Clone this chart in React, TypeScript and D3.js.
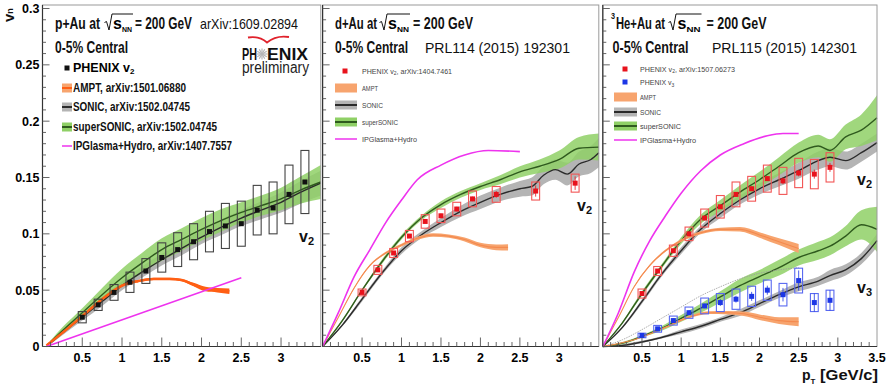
import React from 'react';
import * as d3 from 'd3';

// [pT, value, band half-width]
type Pt = [number, number, number];

// ---------- p+Au (arXiv:1609.02894) ----------
const pAuPt = [0.5, 0.7, 0.9, 1.1, 1.3, 1.5, 1.7, 1.9, 2.1, 2.3, 2.5, 2.7, 2.9, 3.1, 3.3];
const pAuV2 = [0.026, 0.037, 0.048, 0.057, 0.067, 0.079, 0.086, 0.093, 0.102, 0.107, 0.109, 0.121, 0.123, 0.135, 0.146];
const pAuSys = [0.005, 0.005, 0.007, 0.009, 0.011, 0.013, 0.015, 0.016, 0.018, 0.02, 0.02, 0.022, 0.023, 0.026, 0.028];

const pAuSonic: Pt[] = [[0.1, 0.003, 0.001], [0.25, 0.012, 0.002], [0.5, 0.026, 0.003], [0.75, 0.04, 0.004], [1.0, 0.054, 0.004], [1.25, 0.066, 0.005], [1.5, 0.077, 0.005], [1.75, 0.087, 0.006], [2.0, 0.097, 0.006], [2.25, 0.106, 0.007], [2.5, 0.114, 0.007], [2.75, 0.121, 0.008], [3.0, 0.128, 0.009], [3.25, 0.137, 0.01], [3.5, 0.145, 0.011]];
const pAuSuper: Pt[] = [[0.1, 0.004, 0.001], [0.25, 0.014, 0.003], [0.5, 0.03, 0.004], [0.75, 0.046, 0.006], [1.0, 0.061, 0.008], [1.25, 0.074, 0.009], [1.5, 0.086, 0.01], [1.75, 0.095, 0.01], [2.0, 0.104, 0.01], [2.25, 0.112, 0.01], [2.5, 0.119, 0.009], [2.75, 0.125, 0.009], [3.0, 0.131, 0.01], [3.25, 0.139, 0.012], [3.5, 0.146, 0.015]];
const pAuAmpt: Pt[] = [[0.05, 0.001, 0.001], [0.3, 0.015, 0.001], [0.5, 0.027, 0.001], [0.75, 0.042, 0.001], [1.0, 0.054, 0.001], [1.2, 0.058, 0.001], [1.4, 0.06, 0.001], [1.6, 0.06, 0.001], [1.75, 0.059, 0.001], [1.9, 0.055, 0.0015], [2.05, 0.051, 0.002], [2.2, 0.05, 0.002], [2.35, 0.049, 0.0025]];
const pAuIpg: Pt[] = [[0.05, 0, 0], [2.5, 0.061, 0]];

// ---------- d+Au (PRL114 (2015) 192301) ----------
const dAuPt = [0.5, 0.7, 0.9, 1.1, 1.3, 1.5, 1.7, 1.9, 2.2, 2.7, 3.2];
const dAuV2 = [0.048, 0.068, 0.083, 0.098, 0.111, 0.116, 0.122, 0.131, 0.135, 0.138, 0.145];
const dAuSys = [0.003, 0.004, 0.004, 0.005, 0.006, 0.006, 0.006, 0.007, 0.007, 0.008, 0.008];
const dAuStat = [0.001, 0.001, 0.001, 0.001, 0.001, 0.002, 0.002, 0.002, 0.003, 0.005, 0.006];

const dAuSonic: Pt[] = [[0, 0, 0], [0.25, 0.019, 0.001], [0.5, 0.042, 0.002], [0.75, 0.065, 0.002], [1.0, 0.085, 0.003], [1.25, 0.099, 0.003], [1.5, 0.11, 0.004], [1.75, 0.12, 0.005], [2.0, 0.128, 0.006], [2.25, 0.135, 0.006], [2.5, 0.14, 0.007], [2.65, 0.142, 0.008], [2.8, 0.152, 0.008], [2.95, 0.157, 0.009], [3.1, 0.153, 0.01], [3.25, 0.162, 0.011], [3.4, 0.166, 0.012], [3.5, 0.172, 0.013]];
const dAuSuper: Pt[] = [[0, 0, 0], [0.25, 0.023, 0.001], [0.5, 0.05, 0.001], [0.75, 0.075, 0.002], [1.0, 0.097, 0.002], [1.25, 0.114, 0.002], [1.5, 0.126, 0.003], [1.75, 0.135, 0.003], [2.0, 0.142, 0.003], [2.25, 0.148, 0.004], [2.5, 0.155, 0.005], [2.75, 0.16, 0.006], [3.0, 0.166, 0.008], [3.25, 0.176, 0.01], [3.5, 0.177, 0.012]];
const dAuAmpt: Pt[] = [[0, 0, 0], [0.2, 0.026, 0], [0.4, 0.052, 0.0005], [0.6, 0.072, 0.0008], [0.8, 0.083, 0.001], [1.0, 0.09, 0.0012], [1.2, 0.096, 0.0014], [1.4, 0.099, 0.0015], [1.6, 0.098, 0.0015], [1.8, 0.095, 0.0018], [2.0, 0.09, 0.002], [2.2, 0.088, 0.0025], [2.35, 0.088, 0.0028]];
const dAuIpg: Pt[] = [[0, 0, 0], [0.2, 0.03, 0], [0.4, 0.062, 0], [0.6, 0.086, 0], [0.8, 0.11, 0], [1.0, 0.13, 0], [1.2, 0.148, 0], [1.5, 0.161, 0], [1.8, 0.17, 0], [2.1, 0.174, 0], [2.5, 0.173, 0]];

// ---------- 3He+Au (PRL115 (2015) 142301) ----------
const hePt = [0.5, 0.7, 0.9, 1.1, 1.3, 1.5, 1.7, 1.9, 2.1, 2.3, 2.5, 2.7, 2.9];
const heV2 = [0.047, 0.067, 0.085, 0.1, 0.114, 0.124, 0.135, 0.14, 0.149, 0.147, 0.154, 0.153, 0.159];
const heV2Sys = [0.004, 0.004, 0.005, 0.006, 0.008, 0.01, 0.011, 0.011, 0.012, 0.012, 0.013, 0.013, 0.013];
const heV2Stat = [0.001, 0.001, 0.001, 0.001, 0.001, 0.001, 0.002, 0.002, 0.002, 0.003, 0.003, 0.004, 0.004];
const heV3 = [0.0098, 0.0157, 0.023, 0.03, 0.036, 0.039, 0.042, 0.0445, 0.05, 0.046, 0.0585, 0.039, 0.041];
const heV3Sys = [0.002, 0.003, 0.004, 0.005, 0.007, 0.008, 0.009, 0.009, 0.009, 0.01, 0.011, 0.008, 0.009];
const heV3Stat = [0.001, 0.001, 0.002, 0.002, 0.002, 0.003, 0.003, 0.004, 0.004, 0.006, 0.009, 0.008, 0.009];

const heSonicV2: Pt[] = [[0, 0, 0], [0.25, 0.017, 0.001], [0.5, 0.04, 0.002], [0.75, 0.064, 0.002], [1.0, 0.085, 0.003], [1.25, 0.104, 0.003], [1.5, 0.118, 0.004], [1.75, 0.13, 0.004], [2.0, 0.14, 0.005], [2.25, 0.148, 0.006], [2.5, 0.156, 0.007], [2.75, 0.165, 0.008], [2.9, 0.168, 0.008], [3.1, 0.165, 0.008], [3.3, 0.172, 0.008], [3.5, 0.181, 0.008]];
const heSuperV2: Pt[] = [[0, 0, 0], [0.25, 0.021, 0.001], [0.5, 0.047, 0.002], [0.75, 0.071, 0.002], [1.0, 0.094, 0.003], [1.25, 0.113, 0.004], [1.5, 0.125, 0.005], [1.75, 0.137, 0.006], [2.0, 0.148, 0.007], [2.25, 0.16, 0.008], [2.5, 0.172, 0.009], [2.75, 0.178, 0.01], [2.9, 0.174, 0.01], [3.1, 0.186, 0.011], [3.3, 0.192, 0.014], [3.5, 0.203, 0.02]];
const heAmptV2: Pt[] = [[0, 0, 0], [0.2, 0.026, 0], [0.4, 0.053, 0.0005], [0.6, 0.072, 0.0008], [0.8, 0.085, 0.001], [1.0, 0.094, 0.0012], [1.25, 0.101, 0.0014], [1.5, 0.104, 0.0015], [1.75, 0.104, 0.002], [2.0, 0.099, 0.0025], [2.25, 0.093, 0.003], [2.5, 0.087, 0.004]];
const heIpgV2: Pt[] = [[0, 0, 0], [0.2, 0.03, 0], [0.4, 0.066, 0], [0.6, 0.094, 0], [0.8, 0.116, 0], [1.0, 0.136, 0], [1.25, 0.156, 0], [1.5, 0.17, 0], [1.8, 0.18, 0], [2.1, 0.187, 0], [2.3, 0.189, 0], [2.5, 0.189, 0]];
const heSonicV3: Pt[] = [[0, 0, 0], [0.25, 0.001, 0.001], [0.5, 0.004, 0.001], [0.75, 0.008, 0.001], [1.0, 0.013, 0.002], [1.25, 0.018, 0.002], [1.5, 0.024, 0.002], [1.75, 0.03, 0.003], [2.0, 0.038, 0.003], [2.25, 0.046, 0.003], [2.5, 0.053, 0.004], [2.75, 0.058, 0.004], [2.9, 0.063, 0.005], [3.1, 0.068, 0.005], [3.3, 0.078, 0.005], [3.5, 0.094, 0.006]];
const heSuperV3: Pt[] = [[0, 0, 0], [0.25, 0.003, 0.001], [0.5, 0.009, 0.001], [0.75, 0.016, 0.002], [1.0, 0.025, 0.003], [1.25, 0.034, 0.004], [1.5, 0.044, 0.005], [1.75, 0.054, 0.006], [2.0, 0.062, 0.006], [2.25, 0.07, 0.007], [2.5, 0.079, 0.007], [2.75, 0.085, 0.008], [2.9, 0.089, 0.008], [3.1, 0.098, 0.009], [3.3, 0.108, 0.013], [3.5, 0.104, 0.02]];
const heAmptV3: Pt[] = [[0, 0, 0], [0.4, 0.006, 0], [0.8, 0.017, 0.0005], [1.1, 0.026, 0.001], [1.35, 0.03, 0.0012], [1.6, 0.03, 0.0015], [1.8, 0.029, 0.002], [2.0, 0.026, 0.0025], [2.25, 0.023, 0.003], [2.5, 0.022, 0.004]];
const heThinV3: Pt[] = [[0, 0, 0], [0.25, 0.006, 0], [0.5, 0.015, 0], [0.75, 0.025, 0], [1.0, 0.035, 0], [1.25, 0.045, 0], [1.5, 0.053, 0], [1.75, 0.06, 0], [2.0, 0.065, 0], [2.25, 0.068, 0], [2.5, 0.07, 0]];

const yTickLabels = ['0', '0.05', '0.1', '0.15', '0.2', '0.25', '0.3'];
const xTickLabels = ['0.5', '1', '1.5', '2', '2.5', '3', '3.5'];

const narrow = "'Liberation Sans Narrow', 'Arial Narrow', 'Liberation Sans', Arial, sans-serif";
const sans = "'Liberation Sans', Arial, sans-serif";

const C = {
  gray: '#b4b4b4', grayLine: '#2b2b2b',
  green: '#8fd066', greenLine: '#2f5a1e',
  amptBand: '#f7a46e', amptLine: '#f48a4f', amptThick: '#ff5f14',
  pink: '#ee33ee', red: '#e8121c', redBox: '#f25555', blue: '#1c36e6', blueBox: '#5868f0'
};

const yS = d3.scaleLinear().domain([0, 0.3]).range([346.5, 8.5]);
const frameTop = 5;

const area = (xs: d3.ScaleLinear<number, number>, data: Pt[]) =>
  d3.area<Pt>().x(d => xs(d[0])).y0(d => yS(d[1] - d[2])).y1(d => yS(d[1] + d[2])).curve(d3.curveMonotoneX)(data) || '';
const line = (xs: d3.ScaleLinear<number, number>, data: Pt[]) =>
  d3.line<Pt>().x(d => xs(d[0])).y(d => yS(d[1])).curve(d3.curveMonotoneX)(data) || '';

function Frame({ xs, showLabels, lastX }: { xs: d3.ScaleLinear<number, number>; showLabels: boolean; lastX: boolean }) {
  const [x0, x1] = xs.range();
  const yt = d3.range(0, 31).map(i => i / 100);
  const xt = d3.range(1, 35).map(i => i / 10);
  const xLab = xTickLabels.slice(0, lastX ? 7 : 6);
  return (
    <g>
      <rect x={x0} y={frameTop} width={x1 - x0} height={yS(0) - frameTop} fill="none" stroke="#9a9a9a" strokeWidth={1} />
      <line x1={x0} x2={x0} y1={frameTop} y2={yS(0)} stroke="#333" strokeWidth={1.2} />
      <line x1={x0} x2={x1} y1={yS(0)} y2={yS(0)} stroke="#333" strokeWidth={1.2} />
      {yt.map((v, i) => (
        <line key={'y' + i} x1={x0} x2={x0 + (i % 5 === 0 ? 7 : 3.5)} y1={yS(v)} y2={yS(v)} stroke="#555" strokeWidth={0.9} />
      ))}
      {xt.map((v, i) => (
        <line key={'x' + i} x1={xs(v)} x2={xs(v)} y1={yS(0)} y2={yS(0) - ((i + 1) % 5 === 0 ? 9 : 4.5)} stroke="#555" strokeWidth={0.9} />
      ))}
      {showLabels && yTickLabels.map((t, i) => (
        <text key={'yl' + i} x={x0 - 3} y={yS(+t) + 4.5} textAnchor="end" fontFamily={sans} fontWeight="bold" fontSize={12.5}>{t}</text>
      ))}
      {xLab.map(t => (
        <text key={'xl' + t} x={xs(+t)} y={362} textAnchor="middle" fontFamily={sans} fontWeight="bold" fontSize={12.5}>{t}</text>
      ))}
    </g>
  );
}

function Data({ xs, pt, v, sys, stat, fill, box, size }: {
  xs: d3.ScaleLinear<number, number>; pt: number[]; v: number[]; sys: number[]; stat?: number[]; fill: string; box: string; size: number;
}) {
  return (
    <g>
      {pt.map((p, i) => (
        <g key={i}>
          <rect x={xs(p - 0.05)} y={yS(v[i] + sys[i])} width={xs(p + 0.05) - xs(p - 0.05)} height={yS(v[i] - sys[i]) - yS(v[i] + sys[i])}
            fill="none" stroke={box} strokeWidth={1.1} />
          {stat && <line x1={xs(p)} x2={xs(p)} y1={yS(v[i] + stat[i])} y2={yS(v[i] - stat[i])} stroke={fill} strokeWidth={0.8} />}
          <rect x={xs(p) - size / 2} y={yS(v[i]) - size / 2} width={size} height={size} fill={fill} />
        </g>
      ))}
    </g>
  );
}

function Sqrt({ x, s, nnW, y = 29 }: { x: number; s: number; nnW: number; y?: number }) {
  // radical sign, s and NN subscript; x = start of radical, s = x of "s"
  const end = s + 9 + nnW + 1;
  return (
    <g>
      <path d={`M${x - 1.5},${y - 6.5} L${x + 0.5},${y - 7.5} L${x + 3},${y + 1} L${x + 6},${y - 15} L${end},${y - 15}`} fill="none" stroke="#111" strokeWidth={1} />
      <text x={s} y={y} fontFamily={narrow} fontWeight="bold" fontSize={16}>s</text>
      <text x={s + 9} y={y + 3} fontFamily={narrow} fontWeight="bold" fontSize={8} textLength={nnW} lengthAdjust="spacingAndGlyphs">NN</text>
    </g>
  );
}

const T = ({ x, y, w, size, bold = true, font = narrow, fill = '#111', children }: any) => (
  <text x={x} y={y} fontFamily={font} fontWeight={bold ? 'bold' : 'normal'} fontSize={size} fill={fill}
    textLength={w} lengthAdjust="spacingAndGlyphs">{children}</text>
);

const Sw = ({ x, y, w, band, line: l, lw = 2 }: any) => (
  <g>
    {band && <rect x={x} y={y - 4.5} width={w} height={9} fill={band} />}
    {l && <line x1={x} x2={x + w} y1={y} y2={y} stroke={l} strokeWidth={lw} />}
  </g>
);

const VLabel = ({ x, y, n }: { x: number; y: number; n: string }) => (
  <text x={x} y={y} fontFamily={sans} fontWeight="bold" fontSize={16} fill="#111">v<tspan fontSize={11} dy={3}>{n}</tspan></text>
);

export default function App() {
  const x1 = d3.scaleLinear().domain([0, 3.5]).range([42.5, 320.8]);
  const x2 = d3.scaleLinear().domain([0, 3.5]).range([322.6, 598.8]);
  const x3 = d3.scaleLinear().domain([0, 3.5]).range([602.8, 877]);

  return (
    <svg width={889} height={391} style={{ position: 'absolute', left: 0, top: 0, background: '#fff' }}>
      {/* ---------- panel 1: p+Au ---------- */}
      <g>
        <path d={area(x1, pAuSonic)} fill={C.gray} />
        <path d={area(x1, pAuSuper)} fill={C.green} opacity={0.85} />
        <path d={line(x1, pAuSonic)} fill="none" stroke={C.grayLine} strokeWidth={1.4} />
        <path d={line(x1, pAuSuper)} fill="none" stroke={C.greenLine} strokeWidth={1.4} />
        <path d={area(x1, pAuAmpt)} fill={C.amptThick} />
        <path d={line(x1, pAuAmpt)} fill="none" stroke={C.amptThick} strokeWidth={2.5} />
        <path d={line(x1, pAuIpg)} fill="none" stroke={C.pink} strokeWidth={1.5} />
        <Data xs={x1} pt={pAuPt} v={pAuV2} sys={pAuSys} fill="#111" box="#444" size={5} />
        <Frame xs={x1} showLabels={true} lastX={false} />

        <T x={55} y={29} w={45} size={16}>p+Au at</T>
        <Sqrt x={106} s={113} nnW={10} />
        <T x={135} y={29} w={57} size={16}>= 200 GeV</T>
        <T x={200} y={29} w={98} size={15} bold={false} font={sans}>arXiv:1609.02894</T>
        <T x={55} y={52.5} w={73} size={16}>0-5% Central</T>

        <path d="M248,37.5 Q259,35.5 267,42.5 Q276,35 289,37" fill="none" stroke="#e0222c" strokeWidth={1.8} />
        <T x={242} y={60} w={15} size={17}>PH</T>
        {d3.range(0, 12).map(i => (
          <line key={i} x1={262} y1={54} x2={262 + 5.5 * Math.cos((i * Math.PI) / 6)} y2={54 + 5.5 * Math.sin((i * Math.PI) / 6)} stroke="#b5b5b5" strokeWidth={1.2} />
        ))}
        <T x={267} y={60} w={41} size={17}>ENIX</T>
        <T x={242} y={72.7} w={67} size={16} bold={false} font={sans} fill="#222">preliminary</T>

        <rect x={64.5} y={65.5} width={5} height={5} fill="#111" />
        <text x={73} y={72} fontFamily={narrow} fontWeight="bold" fontSize={12.5}>PHENIX v<tspan fontSize={8} dy={2}>2</tspan></text>
        <Sw x={62} y={88} w={10} band={C.amptBand} line={C.amptThick} />
        <T x={73} y={92} w={113} size={12.5}>AMPT, arXiv:1501.06880</T>
        <Sw x={62} y={107} w={10} band={C.gray} line={C.grayLine} />
        <T x={73} y={111} w={117} size={12.5}>SONIC, arXiv:1502.04745</T>
        <Sw x={62} y={127} w={10} band={C.green} line={C.greenLine} />
        <T x={73} y={131} w={144} size={12.5}>superSONIC, arXiv:1502.04745</T>
        <Sw x={62} y={146} w={10} line={C.pink} lw={1.5} />
        <T x={73} y={150} w={159} size={12.5}>IPGlasma+Hydro, arXiv:1407.7557</T>

        <VLabel x={299} y={242} n="2" />
      </g>

      {/* ---------- panel 2: d+Au ---------- */}
      <g>
        <path d={area(x2, dAuSonic)} fill={C.gray} />
        <path d={area(x2, dAuSuper)} fill={C.green} opacity={0.85} />
        <path d={line(x2, dAuSonic)} fill="none" stroke={C.grayLine} strokeWidth={1.4} />
        <path d={line(x2, dAuSuper)} fill="none" stroke={C.greenLine} strokeWidth={1.4} />
        <path d={area(x2, dAuAmpt)} fill={C.amptBand} />
        <path d={line(x2, dAuAmpt)} fill="none" stroke={C.amptLine} strokeWidth={1.1} />
        <path d={line(x2, dAuIpg)} fill="none" stroke={C.pink} strokeWidth={1.6} />
        <Data xs={x2} pt={dAuPt} v={dAuV2} sys={dAuSys} stat={dAuStat} fill={C.red} box={C.redBox} size={5} />
        <Frame xs={x2} showLabels={false} lastX={false} />

        <T x={335} y={29} w={42} size={16}>d+Au at</T>
        <Sqrt x={381} s={388} nnW={12} />
        <T x={413} y={29} w={60} size={16}>= 200 GeV</T>
        <T x={335} y={52.5} w={73} size={16}>0-5% Central</T>
        <T x={425} y={52.5} w={145} size={15} bold={false} font={sans}>PRL114 (2015) 192301</T>

        <rect x={342.5} y={68.5} width={5} height={5} fill={C.red} />
        <text x={362} y={73.5} fontFamily={sans} fontSize={7} fill="#444" textLength={90} lengthAdjust="spacingAndGlyphs">PHENIX v<tspan fontSize={5} dy={1.5}>2</tspan><tspan dy={-1.5}>, arXiv:1404.7461</tspan></text>
        <Sw x={335} y={88} w={22} band={C.amptBand} />
        <T x={362} y={91} w={16} size={7} bold={false} font={sans} fill="#444">AMPT</T>
        <Sw x={335} y={105} w={22} band={C.gray} line={C.grayLine} />
        <T x={362} y={108} w={21} size={7} bold={false} font={sans} fill="#444">SONIC</T>
        <Sw x={335} y={122} w={22} band={C.green} line={C.greenLine} />
        <T x={362} y={125} w={36} size={7} bold={false} font={sans} fill="#444">superSONIC</T>
        <Sw x={335} y={139} w={22} line={C.pink} lw={1.5} />
        <T x={362} y={142} w={55} size={7} bold={false} font={sans} fill="#444">IPGlasma+Hydro</T>

        <VLabel x={577} y={211} n="2" />
      </g>

      {/* ---------- panel 3: 3He+Au ---------- */}
      <g>
        <path d={area(x3, heSonicV2)} fill={C.gray} />
        <path d={area(x3, heSuperV2)} fill={C.green} opacity={0.85} />
        <path d={area(x3, heSonicV3)} fill={C.gray} />
        <path d={area(x3, heSuperV3)} fill={C.green} opacity={0.85} />
        <path d={line(x3, heSonicV2)} fill="none" stroke={C.grayLine} strokeWidth={1.4} />
        <path d={line(x3, heSuperV2)} fill="none" stroke={C.greenLine} strokeWidth={1.4} />
        <path d={line(x3, heSonicV3)} fill="none" stroke={C.grayLine} strokeWidth={1.4} />
        <path d={line(x3, heSuperV3)} fill="none" stroke={C.greenLine} strokeWidth={1.4} />
        <path d={line(x3, heThinV3)} fill="none" stroke="#9a9a9a" strokeWidth={0.8} strokeDasharray="1.5,1" />
        <path d={area(x3, heAmptV2)} fill={C.amptBand} />
        <path d={line(x3, heAmptV2)} fill="none" stroke={C.amptLine} strokeWidth={1.1} />
        <path d={area(x3, heAmptV3)} fill={C.amptBand} />
        <path d={line(x3, heAmptV3)} fill="none" stroke={C.amptLine} strokeWidth={1.1} />
        <path d={line(x3, heIpgV2)} fill="none" stroke={C.pink} strokeWidth={1.6} />
        <Data xs={x3} pt={hePt} v={heV2} sys={heV2Sys} stat={heV2Stat} fill={C.red} box={C.redBox} size={5} />
        <Data xs={x3} pt={hePt} v={heV3} sys={heV3Sys} stat={heV3Stat} fill={C.blue} box={C.blueBox} size={5} />
        <Frame xs={x3} showLabels={false} lastX={true} />

        <T x={611} y={19} w={4} size={9}>3</T>
        <T x={616} y={29} w={49} size={16}>He+Au at</T>
        <Sqrt x={670} s={677.5} nnW={14} />
        <T x={706.5} y={29} w={60} size={16}>= 200 GeV</T>
        <T x={612.5} y={52.5} w={76} size={16}>0-5% Central</T>
        <T x={712} y={52.5} w={145} size={15} bold={false} font={sans}>PRL115 (2015) 142301</T>

        <rect x={622.5} y={66.5} width={5} height={5} fill={C.red} />
        <text x={640} y={71.5} fontFamily={sans} fontSize={7} fill="#444" textLength={95} lengthAdjust="spacingAndGlyphs">PHENIX v<tspan fontSize={5} dy={1.5}>2</tspan><tspan dy={-1.5}>, arXiv:1507.06273</tspan></text>
        <rect x={622.5} y={79.5} width={5} height={5} fill={C.blue} />
        <text x={640} y={85} fontFamily={sans} fontSize={7} fill="#444">PHENIX v<tspan fontSize={5} dy={1.5}>3</tspan></text>
        <Sw x={614} y={97} w={23} band={C.amptBand} />
        <T x={640} y={100} w={16} size={7} bold={false} font={sans} fill="#444">AMPT</T>
        <Sw x={614} y={112} w={23} band={C.gray} line={C.grayLine} />
        <T x={640} y={115} w={21} size={7} bold={false} font={sans} fill="#444">SONIC</T>
        <Sw x={614} y={126} w={23} band={C.green} line={C.greenLine} />
        <T x={640} y={129} w={41} size={7} bold={false} font={sans} fill="#444">superSONIC</T>
        <Sw x={614} y={140} w={23} line={C.pink} lw={1.5} />
        <T x={640} y={143} w={56} size={7} bold={false} font={sans} fill="#444">IPGlasma+Hydro</T>

        <VLabel x={857} y={185} n="2" />
        <VLabel x={857} y={293} n="3" />
      </g>

      {/* axis titles */}
      <text transform="translate(14,22) rotate(-90)" fontFamily={sans} fontWeight="bold" fontSize={15} fill="#111">v<tspan fontSize={9} dy={-1}>n</tspan></text>
      <text x={802} y={380} fontFamily={sans} fontWeight="bold" fontSize={14} fill="#111">p<tspan fontSize={8} dy={3.5}>T</tspan></text>
      <T x={820} y={380} w={58} size={14} font={sans}>[GeV/c]</T>
    </svg>
  );
}
